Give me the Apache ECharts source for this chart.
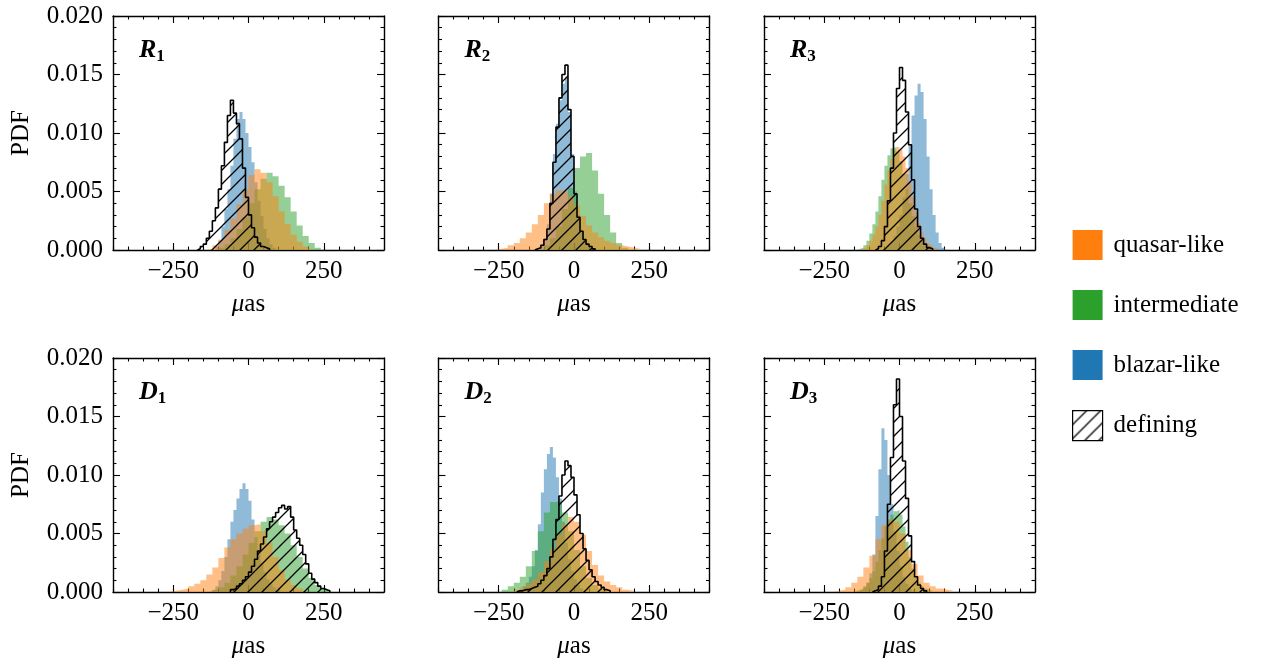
<!DOCTYPE html>
<html>
<head>
<meta charset="utf-8">
<script src="https://cdn.jsdelivr.net/npm/echarts@6/dist/echarts.min.js"></script>
<style>
  html, body { margin: 0; padding: 0; background: #fff; }
  #chart { width: 1268px; height: 662px; }
</style>
</head>
<body>
<div id="chart"></div>
<script>
// histogram PDFs: left edge of first bin, bin width, density per bin
const r1Quasar   = { from: -140, step: 20, pdf: [0.0001,0.0004,0.0009,0.0017,0.0027,0.0039,0.0052,0.0064,0.0069,0.0066,0.0058,0.0046,0.0033,0.0022,0.0013,0.0007,0.0003,0.0001] };
const r1Inter    = { from: -100, step: 20, pdf: [0.0002,0.0005,0.0010,0.0018,0.0028,0.0040,0.0052,0.0061,0.0066,0.0063,0.0055,0.0045,0.0033,0.0021,0.0012,0.0006,0.0002] };
const r1Blazar   = { from: -110, step: 10, pdf: [0.0003,0.0008,0.0020,0.0035,0.0052,0.0072,0.0095,0.0112,0.0118,0.0112,0.0100,0.0088,0.0075,0.0058,0.0042,0.0029,0.0018,0.0010,0.0005,0.0002] };
const r1Defining = { from: -170, step: 10, pdf: [0.0001,0.0003,0.0005,0.0010,0.0016,0.0025,0.0036,0.0052,0.0072,0.0092,0.0115,0.0128,0.0117,0.0108,0.0095,0.0070,0.0045,0.0030,0.0019,0.0011,0.0006,0.0003,0.0002,0.0001] };

const r2Quasar   = { from: -260, step: 20, pdf: [0.0001,0.0002,0.0004,0.0006,0.0010,0.0015,0.0022,0.0030,0.0040,0.0048,0.0051,0.0050,0.0046,0.0038,0.0029,0.0021,0.0015,0.0011,0.0008,0.0006,0.0004,0.0003,0.0002,0.0001] };
const r2Inter    = { from: -120, step: 20, pdf: [0.0001,0.0004,0.0010,0.0020,0.0035,0.0053,0.0070,0.0080,0.0083,0.0068,0.0048,0.0030,0.0015,0.0006,0.0002] };
const r2Blazar   = { from: -130, step: 10, pdf: [0.0001,0.0002,0.0005,0.0010,0.0022,0.0048,0.0082,0.0108,0.0128,0.0142,0.0148,0.0118,0.0082,0.0050,0.0030,0.0017,0.0009,0.0005,0.0002,0.0001] };
const r2Defining = { from: -130, step: 10, pdf: [0.0001,0.0002,0.0004,0.0009,0.0018,0.0040,0.0075,0.0105,0.0130,0.0150,0.0158,0.0120,0.0080,0.0048,0.0028,0.0016,0.0009,0.0005,0.0003,0.0001] };

const r3Quasar   = { from: -130, step: 10, pdf: [0.0001,0.0002,0.0004,0.0008,0.0013,0.0020,0.0030,0.0042,0.0056,0.0068,0.0078,0.0085,0.0088,0.0086,0.0080,0.0070,0.0058,0.0045,0.0033,0.0023,0.0015,0.0010,0.0006,0.0004,0.0002,0.0001] };
const r3Inter    = { from: -140, step: 10, pdf: [0.0001,0.0002,0.0004,0.0008,0.0014,0.0022,0.0033,0.0046,0.0060,0.0072,0.0081,0.0087,0.0088,0.0084,0.0076,0.0065,0.0052,0.0040,0.0029,0.0020,0.0013,0.0008,0.0005,0.0003,0.0002,0.0001] };
const r3Blazar   = { from: -60,  step: 10, pdf: [0.0001,0.0002,0.0004,0.0007,0.0012,0.0020,0.0030,0.0045,0.0065,0.0090,0.0115,0.0132,0.0142,0.0135,0.0112,0.0080,0.0052,0.0030,0.0015,0.0006,0.0002] };
const r3Defining = { from: -80,  step: 10, pdf: [0.0001,0.0003,0.0008,0.0020,0.0042,0.0070,0.0100,0.0138,0.0156,0.0145,0.0118,0.0090,0.0060,0.0035,0.0020,0.0010,0.0005,0.0002,0.0001] };

const d1Quasar   = { from: -260, step: 20, pdf: [0.0001,0.0002,0.0003,0.0005,0.0007,0.0010,0.0015,0.0021,0.0029,0.0038,0.0045,0.0050,0.0054,0.0057,0.0058,0.0052,0.0042,0.0030,0.0019,0.0011,0.0006,0.0003,0.0001] };
const d1Inter    = { from: -120, step: 20, pdf: [0.0002,0.0004,0.0008,0.0014,0.0022,0.0032,0.0042,0.0052,0.0060,0.0064,0.0062,0.0057,0.0050,0.0040,0.0030,0.0020,0.0012,0.0006,0.0003,0.0001] };
const d1Blazar   = { from: -130, step: 10, pdf: [0.0001,0.0002,0.0005,0.0010,0.0018,0.0030,0.0045,0.0060,0.0070,0.0080,0.0088,0.0093,0.0088,0.0078,0.0062,0.0047,0.0035,0.0025,0.0017,0.0011,0.0007,0.0004,0.0002,0.0001] };
const d1Defining = { from: -60,  step: 10, pdf: [0.0002,0.0003,0.0005,0.0007,0.0010,0.0013,0.0017,0.0022,0.0028,0.0035,0.0041,0.0047,0.0054,0.0060,0.0064,0.0068,0.0072,0.0074,0.0071,0.0073,0.0064,0.0053,0.0046,0.0040,0.0032,0.0024,0.0016,0.0011,0.0008,0.0005,0.0003,0.0002,0.0001] };

const d2Quasar   = { from: -220, step: 20, pdf: [0.0001,0.0002,0.0004,0.0007,0.0011,0.0017,0.0026,0.0037,0.0049,0.0058,0.0064,0.0060,0.0049,0.0035,0.0023,0.0014,0.0009,0.0006,0.0004,0.0002,0.0001] };
const d2Inter    = { from: -240, step: 20, pdf: [0.0002,0.0005,0.0008,0.0013,0.0022,0.0035,0.0052,0.0068,0.0077,0.0078,0.0068,0.0052,0.0036,0.0022,0.0012,0.0006,0.0003,0.0001] };
const d2Blazar   = { from: -200, step: 10, pdf: [0.0001,0.0002,0.0003,0.0005,0.0008,0.0013,0.0022,0.0036,0.0058,0.0085,0.0105,0.0118,0.0124,0.0115,0.0098,0.0080,0.0060,0.0042,0.0028,0.0018,0.0011,0.0006,0.0003,0.0001] };
const d2Defining = { from: -190, step: 10, pdf: [0.0001,0.0001,0.0002,0.0002,0.0003,0.0004,0.0005,0.0007,0.0010,0.0014,0.0020,0.0030,0.0045,0.0062,0.0082,0.0100,0.0112,0.0108,0.0098,0.0083,0.0066,0.0050,0.0037,0.0027,0.0019,0.0013,0.0009,0.0006,0.0004,0.0002,0.0001] };

const d3Quasar   = { from: -220, step: 20, pdf: [0.0001,0.0002,0.0004,0.0008,0.0013,0.0021,0.0031,0.0045,0.0057,0.0062,0.0060,0.0050,0.0036,0.0024,0.0014,0.0008,0.0005,0.0003,0.0002,0.0001] };
const d3Inter    = { from: -150, step: 10, pdf: [0.0001,0.0002,0.0003,0.0005,0.0008,0.0012,0.0018,0.0026,0.0036,0.0046,0.0056,0.0062,0.0066,0.0069,0.0070,0.0066,0.0056,0.0043,0.0030,0.0020,0.0013,0.0008,0.0005,0.0003,0.0002,0.0001] };
const d3Blazar   = { from: -140, step: 10, pdf: [0.0001,0.0002,0.0004,0.0008,0.0016,0.0032,0.0065,0.0105,0.0140,0.0130,0.0100,0.0075,0.0052,0.0035,0.0022,0.0013,0.0007,0.0003,0.0001] };
const d3Defining = { from: -90,  step: 10, pdf: [0.0001,0.0002,0.0005,0.0013,0.0035,0.0075,0.0115,0.0160,0.0182,0.0150,0.0112,0.0080,0.0048,0.0026,0.0013,0.0006,0.0003,0.0001] };

const categories = ['quasar-like', 'intermediate', 'blazar-like', 'defining'];
const panelLabels = [['R', '1'], ['R', '2'], ['R', '3'], ['D', '1'], ['D', '2'], ['D', '3']];
const panelHists = [
    [r1Quasar, r1Inter, r1Blazar, r1Defining],
    [r2Quasar, r2Inter, r2Blazar, r2Defining],
    [r3Quasar, r3Inter, r3Blazar, r3Defining],
    [d1Quasar, d1Inter, d1Blazar, d1Defining],
    [d2Quasar, d2Inter, d2Blazar, d2Defining],
    [d3Quasar, d3Inter, d3Blazar, d3Defining]
];
const xTicks = [-250, 0, 250];

const colors = ['#ff7f0e', '#2ca02c', '#1f77b4'];
//绘制顺序: blazar 在下, intermediate, quasar 在上, defining 最上
const drawOrder = [2, 1, 0, 3];
const FONT = 'Liberation Serif';
const FS = 25;

//斜线填充
function makeHatch() {
    const s = 14;
    const c = document.createElement('canvas');
    c.width = s; c.height = s;
    const ctx = c.getContext('2d');
    ctx.strokeStyle = '#000';
    ctx.lineWidth = 1.3;
    ctx.beginPath();
    ctx.moveTo(-1, s + 1); ctx.lineTo(s + 1, -1);
    ctx.moveTo(-1, 1); ctx.lineTo(1, -1);
    ctx.moveTo(s - 1, s + 1); ctx.lineTo(s + 1, s - 1);
    ctx.stroke();
    return { image: c, repeat: 'repeat' };
}
const hatch = makeHatch();

//直方图转阶梯折线
function histPoints(h) {
    const pts = [[h.from, 0]];
    h.pdf.forEach((v, i) => pts.push([h.from + i * h.step, v]));
    const end = h.from + h.pdf.length * h.step;
    pts.push([end, h.pdf[h.pdf.length - 1]]);
    pts.push([end, 0]);
    return pts;
}

const gridLefts = [113, 438.5, 764];
const gridTops = [16, 358];
const W = 271, H = 234;

const lineCol = { color: '#000', width: 1.4 };
const tickCol = { color: '#000', width: 1.1 };

let grid = [], xAxis = [], yAxis = [], series = [], title = [];

panelHists.forEach((hists, p) => {
    const col = p % 3, row = Math.floor(p / 3);
    grid.push({ left: gridLefts[col], top: gridTops[row], width: W, height: H });

    ['bottom', 'top'].forEach(pos => {
        xAxis.push({
            gridIndex: p, type: 'value', min: -450, max: 450, position: pos,
            axisLine: { onZero: false, lineStyle: lineCol },
            axisTick: { inside: true, length: 7, customValues: xTicks, lineStyle: tickCol },
            axisLabel: {
                show: pos === 'bottom', customValues: xTicks, margin: 9,
                formatter: v => v < 0 ? '\u2212' + (-v) : String(v),
                fontFamily: FONT, fontSize: FS, color: '#000'
            },
            splitLine: { show: false },
            name: pos === 'bottom' ? '{i|μ}as' : '',
            nameLocation: 'middle', nameGap: 42,
            nameTextStyle: {
                fontFamily: FONT, fontSize: FS, color: '#000',
                rich: { i: { fontFamily: FONT, fontSize: FS, fontStyle: 'italic', color: '#000' } }
            }
        });
        xAxis.push({
            gridIndex: p, type: 'value', min: -450, max: 450, interval: 50, position: pos,
            axisLine: { show: false, onZero: false },
            axisTick: { inside: true, length: 3.5, lineStyle: tickCol },
            axisLabel: { show: false },
            splitLine: { show: false }
        });
    });

    ['left', 'right'].forEach(pos => {
        const showLab = pos === 'left' && col === 0;
        yAxis.push({
            gridIndex: p, type: 'value', min: 0, max: 0.02, interval: 0.005, position: pos,
            axisLine: { onZero: false, lineStyle: lineCol },
            axisTick: { inside: true, length: 7, lineStyle: tickCol },
            minorTick: { show: true, splitNumber: 5, length: 3.5, lineStyle: tickCol },
            axisLabel: {
                show: showLab, margin: 10, formatter: v => v.toFixed(3),
                fontFamily: FONT, fontSize: FS, color: '#000'
            },
            splitLine: { show: false },
            name: showLab ? 'PDF' : '', nameLocation: 'middle', nameGap: 79,
            nameTextStyle: { fontFamily: FONT, fontSize: FS, color: '#000' }
        });
    });

    const xi = p * 4, yi = p * 2;
    drawOrder.forEach(k => {
        const h = hists[k];
        const s = {
            name: categories[k], type: 'line', step: 'end', symbol: 'none',
            xAxisIndex: xi, yAxisIndex: yi, silent: true,
            data: histPoints(h)
        };
        if (k < 3) {
            s.itemStyle = { color: colors[k] };
            s.lineStyle = { width: 0, opacity: 0 };
            s.areaStyle = { color: colors[k], opacity: 0.5 };
        } else {
            s.itemStyle = { color: '#000' };
            s.lineStyle = { color: '#000', width: 1.6 };
            s.areaStyle = { color: hatch, opacity: 1 };
        }
        series.push(s);
    });

    title.push({
        left: gridLefts[col] + 26, top: gridTops[row] + 19, padding: 0,
        text: '{r|' + panelLabels[p][0] + '}{s|' + panelLabels[p][1] + '}',
        textStyle: {
            rich: {
                r: { fontFamily: FONT, fontSize: 26, fontStyle: 'italic', fontWeight: 'bold', color: '#000', lineHeight: 30 },
                s: { fontFamily: FONT, fontSize: 17, fontWeight: 'bold', color: '#000', verticalAlign: 'bottom', lineHeight: 30 }
            }
        }
    });
});

const chartObj = echarts.init(document.getElementById('chart'));
chartObj.setOption({
    animation: false,
    backgroundColor: '#fff',
    title: title,
    grid: grid,
    xAxis: xAxis,
    yAxis: yAxis,
    legend: {
        orient: 'vertical', left: 1072, top: 230, padding: 0,
        itemWidth: 30, itemHeight: 30, itemGap: 30,
        textStyle: { fontFamily: FONT, fontSize: FS, color: '#000', padding: [0, 0, 0, 6] },
        data: [
            { name: 'quasar-like', icon: 'rect', itemStyle: { color: colors[0], borderWidth: 0 } },
            { name: 'intermediate', icon: 'rect', itemStyle: { color: colors[1], borderWidth: 0 } },
            { name: 'blazar-like', icon: 'rect', itemStyle: { color: colors[2], borderWidth: 0 } },
            { name: 'defining', icon: 'rect', itemStyle: { color: hatch, borderColor: '#000', borderWidth: 1.2 } }
        ]
    },
    series: series
});
</script>
</body>
</html>
